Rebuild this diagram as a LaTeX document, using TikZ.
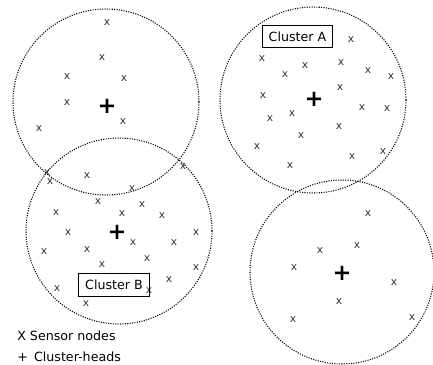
\documentclass[tikz,border=0pt]{standalone}
\usepackage{fontspec}
\setmainfont{DejaVu Sans}
\begin{document}
\begin{tikzpicture}[x=0.75pt,y=0.75pt,yscale=-1,xscale=1,
  zone/.style={densely dotted,line width=0.8pt},
  sensor/.style={font=\fontsize{8}{8}\selectfont,text=black!80,inner sep=0pt},
  chead/.style={font=\bfseries\fontsize{17}{17}\selectfont,inner sep=0pt},
  clabel/.style={draw,line width=0.8pt,font=\fontsize{9.5}{11}\selectfont,minimum width=53pt,minimum height=17pt,inner sep=1pt},
  legend/.style={anchor=west,font=\fontsize{9.5}{11}\selectfont,inner sep=0pt}]
\useasboundingbox (0,0) rectangle (433,365);
% cluster ranges
\draw[zone] (106,102) circle [radius=69.75pt];
\draw[zone] (313,100) circle [radius=69.75pt];
\draw[zone] (119,231) circle [radius=69.75pt];
\draw[zone] (342,272) circle [radius=69pt];
% cluster heads
\node[chead] (h1) at (107,106) {+};
\node[chead] (h2) at (314,99) {+};
\node[chead] (h3) at (117,232) {+};
\node[chead] (h4) at (342,273) {+};
% sensor nodes
\foreach \px/\py [count=\i] in {107/23,102/58,67/77,124/79,67/103,123/122,39/129,47/173,50/182,87/176,183/167,
  132/189,98/202,142/205,56/213,122/214,162/216,68/233,196/233,133/243,174/243,44/252,87/250,147/259,102/265,196/268,169/280,57/289,149/291,86/304,
  351/40,262/59,305/66,341/63,285/75,368/71,391/77,340/88,263/96,362/108,387/109,292/114,270/119,339/127,301/136,257/147,352/157,383/152,290/166,
  368/214,357/246,320/251,294/268,394/283,339/302,293/320,412/318}
  \node[sensor] (s\i) at (\px,\py) {x};
% labels
\node[clabel] (la) at (297.5,36.5) {Cluster A};
\node[clabel] (lb) at (114,285) {Cluster B};
\node[legend] (k1) at (17,336) {X Sensor nodes};
\node[legend] (k2) at (17,357) {+ \,Cluster-heads};
\end{tikzpicture}
\end{document}
